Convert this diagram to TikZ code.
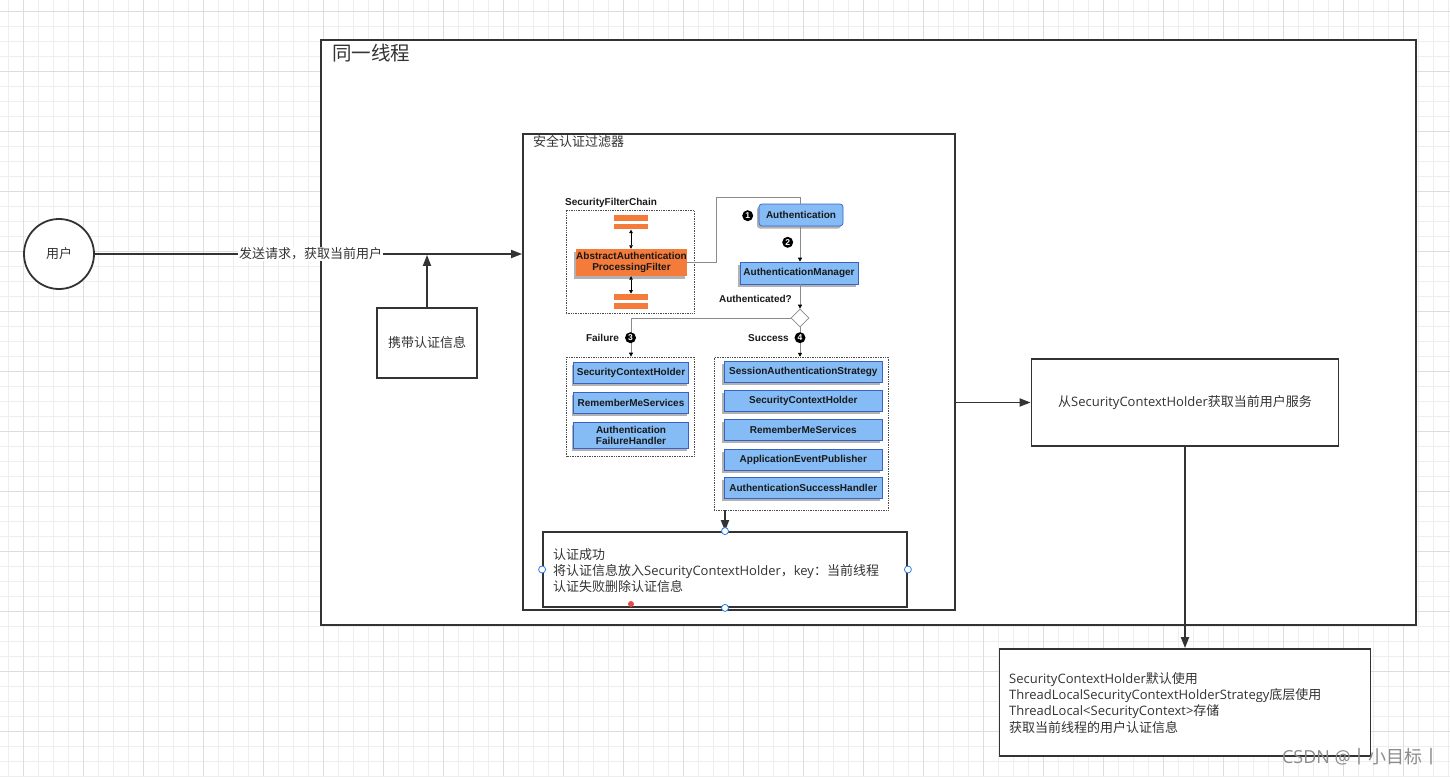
\documentclass[tikz,border=0pt]{standalone}
\usepackage{fontspec}
\setmainfont{Liberation Sans}
\newfontfamily\cjk{Noto Sans CJK SC}
\newfontfamily\latf{Open Sans}
\newcommand\lat[1]{{\latf #1}}
\usetikzlibrary{arrows.meta,shapes.geometric,shadows}
\definecolor{dk}{HTML}{333333}
\definecolor{gmin}{HTML}{EEEEEE}
\definecolor{gmaj}{HTML}{DDDDDD}
\definecolor{sblue}{HTML}{85BCF5}
\definecolor{sbluedk}{HTML}{3A62C4}
\definecolor{sorange}{HTML}{F47B3A}
\definecolor{lgray}{HTML}{8A8A8A}
\definecolor{hblue}{HTML}{2B7DE9}
\definecolor{hred}{HTML}{E84A4A}
\newcommand\myfa{\cjk\fontsize{13}{16.4}\selectfont}
\newcommand\myfb{\cjk\fontsize{13}{16}\selectfont}
\newcommand\myft{\cjk\fontsize{19.5}{22}\selectfont}
\newcommand\myfs{\bfseries\fontsize{10}{12}\selectfont}
\begin{document}
\begin{tikzpicture}[x=1pt,y=-1pt,
  box/.style={draw=dk, line width=1.8pt, fill=white, inner sep=0pt, text=dk},
  conn/.style={draw=dk, line width=1.8pt, -{Triangle[length=11pt,width=8pt]}},
  thinl/.style={draw=lgray, line width=0.7pt},
  sarrow/.style={-{Triangle[length=4pt,width=4pt,color=black]}},
  darrow/.style={draw=black, line width=0.7pt, {Triangle[length=3.5pt,width=3.5pt]}-{Triangle[length=3.5pt,width=3.5pt]}},
  dotbox/.style={draw=black!70, densely dotted, line width=0.7pt},
  sh/.style={drop shadow={shadow xshift=-2pt, shadow yshift=-2.5pt, fill=black!30, opacity=1}},
  bluebox/.style={fill=sblue, draw=sbluedk, line width=0.7pt, inner sep=0pt, font=\myfs, text=black!90, align=center, sh},
  numc/.style={circle, fill=black, inner sep=0pt, minimum size=11pt, text=white, font=\bfseries\fontsize{8.5}{9}\selectfont},
  slabel/.style={font=\myfs, text=black!90, inner sep=0pt},
  handle/.style={circle, draw=hblue, fill=white, line width=0.8pt, minimum size=7pt, inner sep=0pt}
]
\useasboundingbox (0,0) rectangle (1450,776);
\fill[white] (0,0) rectangle (1450,776);
% grid
\foreach \i in {0,...,96} {\draw[gmin, line width=1pt] ({8.33+15*\i},0) -- ({8.33+15*\i},776);}
\foreach \j in {0,...,51} {\draw[gmin, line width=1pt] (0,{11.67+15*\j}) -- (1450,{11.67+15*\j});}
\foreach \i in {0,...,24} {\draw[gmaj, line width=1pt] ({23.33+60*\i},0) -- ({23.33+60*\i},776);}
\foreach \j in {0,...,12} {\draw[gmaj, line width=1pt] (0,{11.67+60*\j}) -- (1450,{11.67+60*\j});}

% outer thread box
\node[box, minimum width=1095pt, minimum height=585pt] (thread) at (868.5,332.5) {};
\node[anchor=west, text=dk, font=\myft, inner sep=0pt] (threadlbl) at (332,53) {同一线程};

% filter box
\node[box, minimum width=432pt, minimum height=476pt] (filt) at (739,372) {};
\node[anchor=west, text=dk, font=\myfb, inner sep=0pt] (filtlbl) at (533,142) {安全认证过滤器};

% user circle
\node[box, circle, minimum size=70pt, font=\myfb] (user) at (59,254) {用户};
% carry box
\node[box, minimum width=100pt, minimum height=70pt, font=\myfb] (carry) at (427,343) {携带认证信息};
% right box
\node[box, minimum width=307pt, minimum height=87pt, font=\myfa] (svc) at (1185,402.5) {从\lat{SecurityContextHolder}获取当前用户服务};
% bottom box
\node[box, minimum width=371pt, minimum height=107pt] (tl) at (1185,702.5) {};
\node[anchor=north west, align=left, text=dk, font=\myfa, inner sep=0pt] (tltext) at (1009,672) {\lat{SecurityContextHolder}默认使用\\\lat{ThreadLocalSecurityContextHolderStrategy}底层使用\\\lat{ThreadLocal<SecurityContext>}存储\\获取当前线程的用户认证信息};
% ok box
\node[box, minimum width=364pt, minimum height=75pt] (ok) at (725,569.5) {};
\node[anchor=north west, align=left, text=dk, font=\myfa, inner sep=0pt] (oktext) at (553,548) {认证成功\\将认证信息放入\lat{SecurityContextHolder}，\lat{key}：当前线程\\认证失败删除认证信息};

% ---------- Spring Security figure ----------
\node[slabel, anchor=west] (sfclbl) at (565,203) {SecurityFilterChain};
\node[dotbox, minimum width=128pt, minimum height=103pt, inner sep=0pt] (chain) at (630,261.5) {};
\fill[sorange] (614,215) rectangle (648,220.7);
\fill[sorange] (614,223.7) rectangle (648,229.3);
\fill[sorange] (614,294) rectangle (648,300);
\fill[sorange] (614,302.7) rectangle (648,309);
\coordinate (bartop) at (631,229.6);
\coordinate (barbot) at (631,293.7);
\node[fill=sorange, inner sep=0pt, minimum width=111pt, minimum height=27pt, font=\myfs, align=center, text=black!90, sh] (aapf) at (631.5,262.5) {AbstractAuthentication\\[-1.5pt]ProcessingFilter};
\draw[darrow] (bartop) -- (aapf.north -| bartop);
\draw[darrow] (aapf.south -| barbot) -- (barbot);

\node[bluebox, rounded corners=3pt, minimum width=84pt, minimum height=22pt] (auth) at (801,215) {Authentication};
\node[bluebox, minimum width=118pt, minimum height=22pt] (mgr) at (799,273) {AuthenticationManager};
\node[diamond, draw=lgray, fill=white, line width=0.7pt, minimum width=18pt, minimum height=18pt, inner sep=0pt] (dec) at (800,318) {};
\node[slabel, anchor=east] (authq) at (792,298.5) {Authenticated?};

\node[dotbox, minimum width=128pt, minimum height=99pt, inner sep=0pt] (fail) at (630.5,406.5) {};
\node[bluebox, minimum width=115pt, minimum height=21pt] (f1) at (631,373) {SecurityContextHolder};
\node[bluebox, minimum width=115pt, minimum height=21pt] (f2) at (631,403) {RememberMeServices};
\node[bluebox, minimum width=115pt, minimum height=26pt] (f3) at (631,435.5) {Authentication\\[-1.5pt]FailureHandler};

\node[dotbox, minimum width=174pt, minimum height=153pt, inner sep=0pt] (succ) at (801.3,433.6) {};
\node[bluebox, minimum width=158pt, minimum height=21pt] (s1) at (803.3,372) {SessionAuthenticationStrategy};
\node[bluebox, minimum width=158pt, minimum height=21pt] (s2) at (803.3,400.5) {SecurityContextHolder};
\node[bluebox, minimum width=158pt, minimum height=21pt] (s3) at (803.3,429.7) {RememberMeServices};
\node[bluebox, minimum width=158pt, minimum height=21pt] (s4) at (803.3,459.7) {ApplicationEventPublisher};
\node[bluebox, minimum width=158pt, minimum height=21pt] (s5) at (803.3,488.2) {AuthenticationSuccessHandler};

% spring connectors
\coordinate (c1) at (716,262.5);
\coordinate (c2) at (716,197);
\draw[thinl] (aapf.east) -- (c1) -- (c2) -- (c2 -| dec) -- (auth.north -| dec);
\draw[thinl, sarrow] (auth.south -| dec) -- (mgr.north -| dec);
\draw[thinl, sarrow] (mgr.south -| dec) -- (dec.north);
\draw[thinl, sarrow] (dec.west) -- (dec.west -| f1) -- (fail.north -| f1);
\draw[thinl, sarrow] (dec.south) -- (succ.north -| dec);

\node[numc] (n1) at (747.7,215.7) {1};
\node[numc] (n2) at (787.7,242.3) {2};
\node[numc] (n3) at (630.5,337.7) {3};
\node[numc] (n4) at (800,337.7) {4};
\node[slabel, anchor=east] (faill) at (619,337.7) {Failure};
\node[slabel, anchor=east] (succl) at (789,337.7) {Success};

% ---------- main connectors ----------
\draw[conn] (user.east) -- (filt.west |- user.east) node[pos=0.505, fill=white, inner sep=1pt, text=dk, font=\myfb] (reqlbl) {发送请求，获取当前用户};
\draw[conn] (carry.north) -- ([yshift=-0.9pt]carry.north |- user.east);
\draw[conn] (filt.east |- svc.west) -- (svc.west);
\draw[conn] (svc.south) -- (tl.north);
\draw[conn] (ok.north |- succ.south) -- (ok.north);

% selection handles
\node[handle] (h1) at (ok.north) {};
\node[handle] (h2) at (ok.west) {};
\node[handle] (h3) at (ok.east) {};
\node[handle] (h4) at (ok.south) {};
\node[circle, fill=hred, minimum size=6pt, inner sep=0pt] (hr) at (631,604) {};

% watermark
\node[anchor=east, text=black!45, font=\cjk\fontsize{18}{20}\selectfont, inner sep=0pt] (wm) at (1441,757) {\lat{CSDN @}丨小目标丨};
\end{tikzpicture}
\end{document}
